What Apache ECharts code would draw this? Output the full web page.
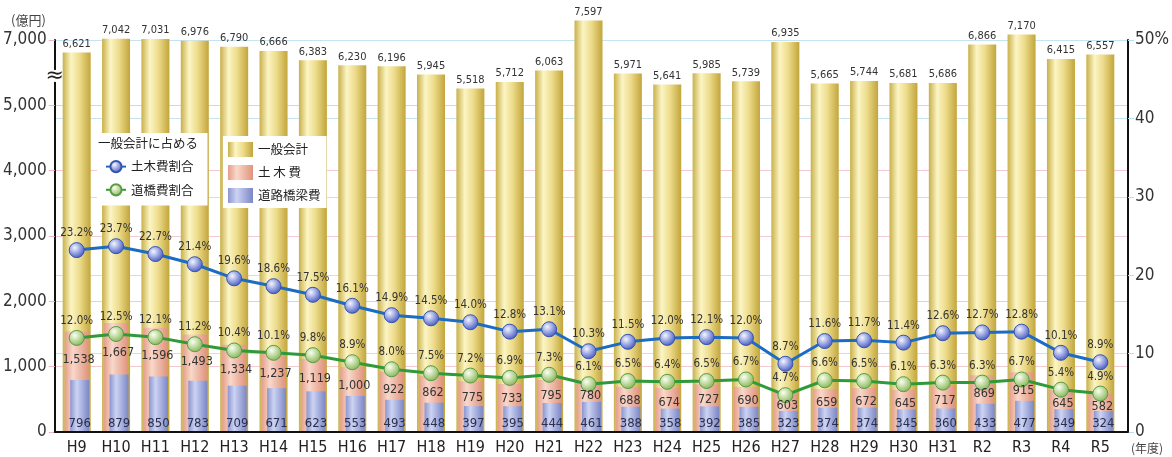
<!DOCTYPE html>
<html><head><meta charset="utf-8">
<script src="https://cdn.jsdelivr.net/npm/echarts@6/dist/echarts.min.js"></script>
<style>html,body{margin:0;padding:0;background:#fff}#c{width:1172px;height:457px}</style>
</head><body><div id="c"></div>
<script>
const years = ['H9','H10','H11','H12','H13','H14','H15','H16','H17','H18','H19','H20','H21','H22','H23','H24','H25','H26','H27','H28','H29','H30','H31','R2','R3','R4','R5'];
const generalAccount = [6621,7042,7031,6976,6790,6666,6383,6230,6196,5945,5518,5712,6063,7597,5971,5641,5985,5739,6935,5665,5744,5681,5686,6866,7170,6415,6557];
const civilEng = [1538,1667,1596,1493,1334,1237,1119,1000,922,862,775,733,795,780,688,674,727,690,603,659,672,645,717,869,915,645,582];
const roadBridge = [796,879,850,783,709,671,623,553,493,448,397,395,444,461,388,358,392,385,323,374,374,345,360,433,477,349,324];
const civilRatio = [23.2,23.7,22.7,21.4,19.6,18.6,17.5,16.1,14.9,14.5,14.0,12.8,13.1,10.3,11.5,12.0,12.1,12.0,8.7,11.6,11.7,11.4,12.6,12.7,12.8,10.1,8.9];
const roadRatio = [12.0,12.5,12.1,11.2,10.4,10.1,9.8,8.9,8.0,7.5,7.2,6.9,7.3,6.1,6.5,6.4,6.5,6.7,4.7,6.6,6.5,6.1,6.3,6.3,6.7,5.4,4.9];
const leftTickValues = [0,1000,2000,3000,4000,5000,6000];
const leftTickLabels = ['0','1,000','2,000','3,000','4,000','5,000','7,000'];
const rightTickValues = [0,10,20,30,40,50];
const rightTickLabels = ['0','10','20','30','40','50%'];

// axis break: above 5,000 the scale is compressed to half
const BREAK_START = 5000, BREAK_RATIO = 0.5;
const squash = v => v <= BREAK_START ? v : BREAK_START + (v - BREAK_START) * BREAK_RATIO;

const NARROW = "'Liberation Sans Narrow','DejaVu Sans Condensed',sans-serif";
const CJK = "'Noto Sans CJK JP','Noto Sans',sans-serif";
const fmt = n => n.toLocaleString('en-US');
const lin = stops => ({type:'linear',x:0,y:0,x2:1,y2:0,colorStops:stops.map(s=>({offset:s[0],color:s[1]}))});
const rad = (c0,c1) => ({type:'radial',x:0.38,y:0.35,r:0.65,colorStops:[{offset:0,color:c0},{offset:1,color:c1}]});

const yellow = lin([[0,'#c8b04a'],[0.3,'#fcf5c4'],[0.6,'#eddc8c'],[1,'#c2a53b']]);
const pink = lin([[0,'#e49e8a'],[0.35,'#f9d8ca'],[1,'#e0937d']]);
const blue = lin([[0,'#8c96cf'],[0.35,'#ccd3f3'],[1,'#7b86c5']]);

const chart = echarts.init(document.getElementById('c'), null, {renderer:'canvas'});
const axisBlack = {show:true, onZero:false, lineStyle:{color:'#111', width:2}};

const option = {
  animation:false,
  backgroundColor:'#fff',
  grid:[
    {left:49, right:44, top:40, bottom:25},
    {left:57, right:52, top:40, bottom:25}
  ],
  xAxis:[
    {gridIndex:1, type:'category', data:years, axisLine:{show:false}, axisTick:{show:false},
     axisLabel:{interval:0, fontSize:16, fontFamily:NARROW, color:'#222', margin:8}},
    {gridIndex:1, type:'category', data:years, show:false},
    {gridIndex:1, type:'category', data:years, show:false},
    {gridIndex:0, type:'value', min:0, max:1, axisLine:axisBlack, axisTick:{show:false},
     axisLabel:{show:false}, splitLine:{show:false}, z:5}
  ],
  yAxis:[
    {gridIndex:0, type:'value', position:'left', min:0, max:6000, interval:1000,
     axisLine:axisBlack, axisTick:{show:true, length:6, lineStyle:{color:'#efb6c3'}},
     axisLabel:{fontSize:17, fontFamily:NARROW, color:'#333', margin:8,
       formatter:v => { const i = leftTickValues.indexOf(v); return i < 0 ? '' : leftTickLabels[i]; }},
     splitLine:{show:true, showMaxLine:false, lineStyle:{color:'#f3c9d2', width:1}}},
    {gridIndex:0, type:'value', position:'right', min:0, max:50, interval:10,
     axisLine:axisBlack, axisTick:{show:true, length:6, lineStyle:{color:'#b8def0'}},
     axisLabel:{fontSize:17, fontFamily:NARROW, color:'#333', margin:7,
       formatter:v => { const i = rightTickValues.indexOf(v); return i < 0 ? '' : rightTickLabels[i]; }},
     splitLine:{show:true, lineStyle:{color:'#c4e4f4', width:1}}},
    {gridIndex:1, type:'value', min:0, max:6000, show:false},
    {gridIndex:1, type:'value', min:0, max:50, show:false}
  ],
  legend:[
    {data:['土木費割合','道橋費割合'], orient:'vertical', left:97, top:133, padding:[27,14,9,8],
     itemGap:10, itemWidth:20, itemHeight:14, backgroundColor:'#fff', selectedMode:false,
     textStyle:{fontSize:12.5, fontFamily:CJK, color:'#222'}},
    {data:['一般会計','土木費','道路橋梁費'], orient:'vertical', left:223, top:136, padding:[6,6,5,5],
     itemGap:8, itemWidth:25, itemHeight:15, icon:'rect', backgroundColor:'#fff', selectedMode:false,
     formatter:n => n === '土木費' ? '土 木 費' : n,
     textStyle:{fontSize:12.5, fontFamily:CJK, color:'#222'}}
  ],
  series:[
    {name:'一般会計', type:'bar', xAxisIndex:0, yAxisIndex:2, barWidth:28, clip:false,
     data:generalAccount.map(squash), itemStyle:{color:yellow},
     label:{show:true, position:'top', distance:3, fontSize:11, fontFamily:NARROW, color:'#333',
       formatter:p => fmt(generalAccount[p.dataIndex])}},
    {name:'土木費', type:'bar', xAxisIndex:1, yAxisIndex:2, barWidth:24,
     data:civilEng, itemStyle:{color:pink}},
    {name:'_spacer', type:'bar', xAxisIndex:2, yAxisIndex:2, barWidth:6, barGap:0, data:[]},
    {name:'道路橋梁費', type:'bar', xAxisIndex:2, yAxisIndex:2, barWidth:19, barGap:0, stack:'road',
     data:roadBridge, itemStyle:{color:blue},
     label:{show:true, position:'insideBottom', distance:2, fontSize:13, fontFamily:NARROW, color:'#2c2f4a'}},
    {name:'_civilLabel', type:'bar', xAxisIndex:2, yAxisIndex:2, barWidth:19, barGap:0, stack:'road', silent:true, z:6,
     data:civilEng.map((v,i) => v - roadBridge[i]), itemStyle:{color:'rgba(0,0,0,0)'},
     label:{show:true, position:'inside', offset:[-1,4], fontSize:12.5, fontFamily:NARROW, color:'#333',
       formatter:p => fmt(civilEng[p.dataIndex])}},
    {name:'土木費割合', type:'line', xAxisIndex:0, yAxisIndex:3, data:civilRatio, z:5,
     symbol:'circle', symbolSize:15,
     lineStyle:{color:'#1b6cc2', width:3},
     itemStyle:{color:rad('#f4f6ff','#4a5ec6'), borderColor:'#3554ae', borderWidth:1},
     label:{show:true, position:'top', distance:3, fontSize:11.5, fontFamily:NARROW, color:'#333',
       formatter:p => p.value.toFixed(1) + '%'}},
    {name:'道橋費割合', type:'line', xAxisIndex:0, yAxisIndex:3, data:roadRatio, z:5,
     symbol:'circle', symbolSize:15,
     lineStyle:{color:'#2f9a3a', width:3},
     itemStyle:{color:rad('#fbfff0','#88b85a'), borderColor:'#5b9a44', borderWidth:1},
     label:{show:true, position:'top', distance:3, fontSize:11.5, fontFamily:NARROW, color:'#333',
       formatter:p => p.value.toFixed(1) + '%'}}
  ]
};
chart.setOption(option);

const breakY = chart.convertToPixel({yAxisIndex:0}, 5450);
const axisX = chart.convertToPixel({xAxisIndex:3}, 0);
chart.setOption({
  graphic:[
    {type:'text', z:100, style:{x:98, y:143, text:'一般会計に占める', font:'12.5px ' + CJK, fill:'#222', textVerticalAlign:'middle'}},
    {type:'text', z:100, style:{x:11, y:20, text:'(億円)', font:'13px ' + CJK, fill:'#444', textVerticalAlign:'middle'}},
    {type:'text', z:100, style:{x:1131, y:448, text:'(年度)', font:'12px ' + CJK, fill:'#444', textVerticalAlign:'middle'}},
    {type:'rect', z:100, shape:{x:axisX - 6, y:breakY - 6, width:12, height:12}, style:{fill:'#fff'}},
    {type:'text', z:101, style:{x:axisX, y:breakY, text:'≈', font:'22px "DejaVu Sans"', fill:'#222', textAlign:'center', textVerticalAlign:'middle'}}
  ]
});
</script></body></html>
